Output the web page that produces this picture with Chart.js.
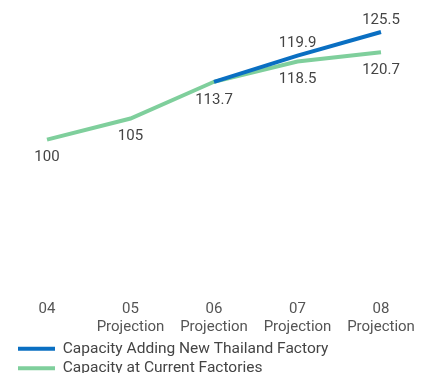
<!DOCTYPE html>
<html>
<head>
<meta charset="utf-8">
<script src="https://cdn.jsdelivr.net/npm/chart.js@4"></script>
<style>
  html, body { margin:0; padding:0; background:#fff; overflow:hidden; }
  #wrap { width:427px; height:386px; position:relative; }
</style>
</head>
<body>
<div id="wrap"><canvas id="chart"></canvas></div>
<script>
    // data
    const years = ['04', '05', '06', '07', '08'];
    const subLabels = ['', 'Projection', 'Projection', 'Projection', 'Projection'];
    const newFactory = [null, null, 113.7, 119.9, 125.5];
    const currentFactories = [100, 105, 113.7, 118.5, 120.7];
    const newFactoryLabels = [null, null, null, '119.9', '125.5'];
    const currentLabels = ['100', '105', '113.7', '118.5', '120.7'];

    const BLUE = '#0a6fc2';
    const GREEN = '#7fcf9c';
    const TXT = '#444';

    // value labels next to the points
    const valueLabels = {
        id: 'valueLabels',
        afterDatasetsDraw(chart) {
            const ctx = chart.ctx;
            ctx.save();
            ctx.font = '15px Roboto';
            ctx.fillStyle = TXT;
            ctx.textAlign = 'center';
            ctx.textBaseline = 'middle';
            chart.data.datasets.forEach((ds, di) => {
                const meta = chart.getDatasetMeta(di);
                ds.valueText.forEach((t, i) => {
                    if (!t) return;
                    const p = meta.data[i];
                    ctx.fillText(t, p.x, p.y + ds.labelOffset);
                });
            });
            ctx.restore();
        }
    };

    new Chart(document.getElementById('chart'), {
        type: 'line',
        data: {
            labels: years.map((y, i) => subLabels[i] ? [y, subLabels[i]] : y),
            datasets: [
                { label: 'Capacity Adding New Thailand Factory', data: newFactory, borderColor: BLUE, backgroundColor: BLUE,
                  borderWidth: 4, pointRadius: 0, fill: false, order: 0, valueText: newFactoryLabels, labelOffset: -12 },
                { label: 'Capacity at Current Factories', data: currentFactories, borderColor: GREEN, backgroundColor: GREEN,
                  borderWidth: 4, pointRadius: 0, fill: false, order: 1, valueText: currentLabels, labelOffset: 18 }
            ]
        },
        options: {
            responsive: true,
            maintainAspectRatio: false,
            animation: false,
            layout: { padding: { left: 14, right: 0, top: 13, bottom: 0 } },
            plugins: {
                legend: {
                    position: 'bottom',
                    align: 'start',
                    labels: {
                        boxWidth: 37, boxHeight: 4, padding: 4,
                        color: TXT, font: { family: 'Roboto', size: 15.5 },
                        generateLabels(chart) {
                            return chart.data.datasets.map((ds, i) => ({
                                text: ds.label, fillStyle: ds.borderColor, strokeStyle: ds.borderColor,
                                lineWidth: 0, datasetIndex: i, fontColor: TXT
                            }));
                        }
                    }
                },
                tooltip: { enabled: false }
            },
            scales: {
                x: {
                    offset: false,
                    grid: { display: false },
                    border: { display: false },
                    ticks: { color: '#555', font: { family: 'Roboto', size: 15, lineHeight: 1.15 }, padding: 4, maxRotation: 0, autoSkip: false },
                    afterFit: s => { s.height = 48; s.paddingLeft = 0; s.paddingRight = 0; }
                },
                y: {
                    min: 64.6, max: 130,
                    grid: { display: false }, border: { display: false },
                    ticks: { display: false },
                    afterFit: s => { s.width = 33; }
                },
                y2: {
                    position: 'right',
                    grid: { display: false }, border: { display: false },
                    ticks: { display: false },
                    afterFit: s => { s.width = 46; }
                }
            }
        },
        plugins: [valueLabels]
    });
</script>
</body>
</html>
